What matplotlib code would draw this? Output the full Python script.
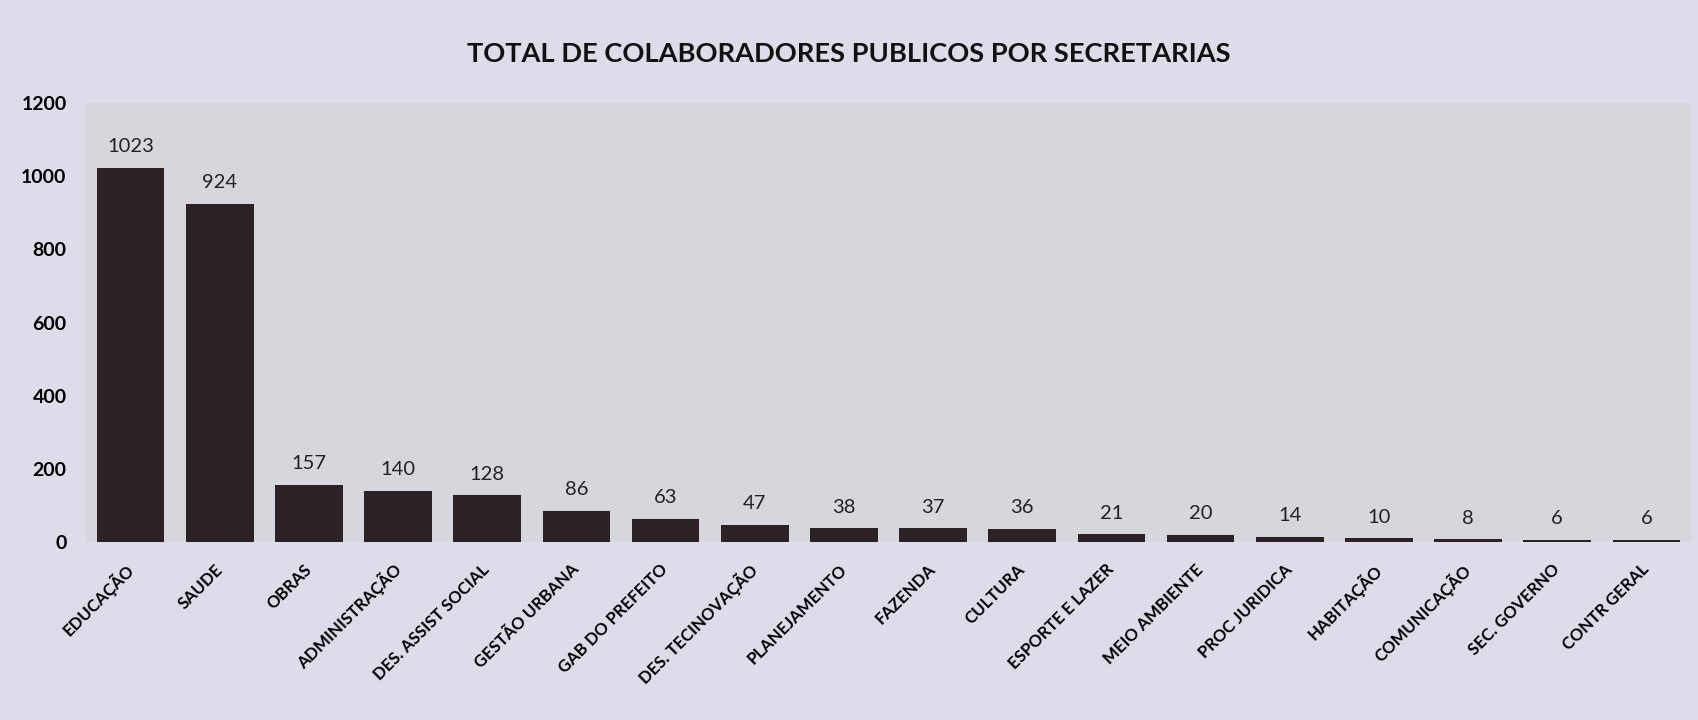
import matplotlib.pyplot as plt

# Dados
secretarias = ['EDUCAÇÃO', 'SAUDE', 'OBRAS', 'ADMINISTRAÇÃO', 'DES. ASSIST SOCIAL',
               'GESTÃO URBANA', 'GAB DO PREFEITO', 'DES. TECINOVAÇÃO', 'PLANEJAMENTO',
               'FAZENDA', 'CULTURA', 'ESPORTE E LAZER', 'MEIO AMBIENTE', 'PROC JURIDICA',
               'HABITAÇÃO', 'COMUNICAÇÃO', 'SEC. GOVERNO', 'CONTR GERAL']
colaboradores = [1023, 924, 157, 140, 128, 86, 63, 47, 38, 37, 36, 21, 20, 14, 10, 8, 6, 6]
yticks = [0, 200, 400, 600, 800, 1000, 1200]

plt.rcParams['font.family'] = ['Lato', 'DejaVu Sans']

fig = plt.figure(figsize=(16.98, 7.2), dpi=100, facecolor='#dddce8')
ax = fig.add_axes([86/1698, 1 - 542/720, 1605/1698, 439/720])
ax.set_facecolor('#d7d6dc')

x = range(len(secretarias))
bars = ax.bar(x, colaboradores, width=0.76, color='#2b2225')

# rótulos de valor
for i, v in enumerate(colaboradores):
    ax.annotate(str(v), (i, v), xytext=(0, 9), textcoords='offset points',
                ha='center', va='bottom', fontsize=14.5, color='#222222')

ax.set_xlim(-0.5, len(secretarias) - 0.5)
ax.set_ylim(0, 1200)
ax.set_yticks(yticks)
ax.set_yticklabels([str(t) for t in yticks], fontweight='bold', fontsize=14)
ax.set_xticks(list(x))
ax.set_xticklabels(secretarias, rotation=45, ha='right', va='center',
                   rotation_mode='anchor', fontweight='bold', fontsize=12)
ax.tick_params(axis='y', length=0, pad=14)
ax.tick_params(axis='x', length=0, pad=18)
for s in ax.spines.values():
    s.set_visible(False)

fig.suptitle('TOTAL DE COLABORADORES PUBLICOS POR SECRETARIAS', y=1 - 54/720,
             va='center', fontsize=19.6, fontweight='bold', color='#111111')

plt.savefig('out.png', dpi=100, facecolor=fig.get_facecolor())
